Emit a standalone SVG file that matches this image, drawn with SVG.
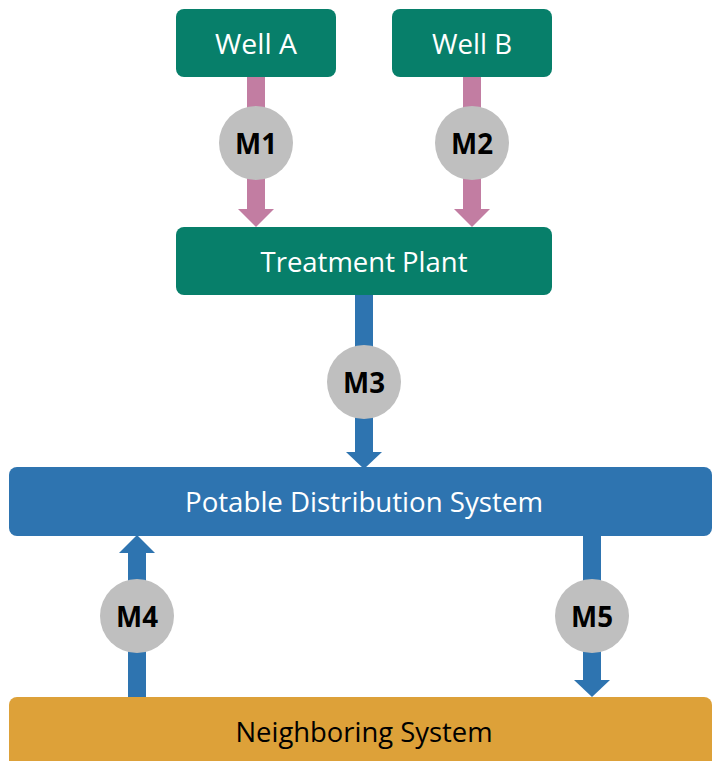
<svg xmlns="http://www.w3.org/2000/svg" width="712" height="761" viewBox="0 0 712 761">
<style>
.green{fill:#077F6A}
.blue{fill:#2E74B0}
.gold{fill:#DDA139}
.lbl{font-family:"Open Sans","Liberation Sans",sans-serif;font-size:28px;text-anchor:middle}
.w{fill:#FFFFFF}
.k{fill:#000000}
.meter{fill:#BFBFBF}
.mtxt{font-family:"Open Sans","Liberation Sans",sans-serif;font-size:28px;font-weight:bold;text-anchor:middle;fill:#000}
.pink{fill:#C27DA2}
.bl{fill:#2E74B0}
</style>
<g id="connectors">
  <g id="c-m1">
    <rect class="pink" x="247" y="77" width="18" height="133"/>
    <polygon class="pink" points="238,209 274,209 256,227"/>
  </g>
  <g id="c-m2">
    <rect class="pink" x="463" y="77" width="18" height="133"/>
    <polygon class="pink" points="454,209 490,209 472,227"/>
  </g>
  <g id="c-m3">
    <rect class="bl" x="355" y="294" width="18" height="159"/>
    <polygon class="bl" points="346,452 382,452 364,469"/>
  </g>
  <g id="c-m4">
    <rect class="bl" x="128" y="552" width="18" height="146"/>
    <polygon class="bl" points="119,553 155,553 137,535"/>
  </g>
  <g id="c-m5">
    <rect class="bl" x="583" y="535" width="18" height="146"/>
    <polygon class="bl" points="574,680 610,680 592,697"/>
  </g>
</g>
<g id="well-a">
  <rect class="green" x="176" y="9" width="160" height="68" rx="8"/>
  <text class="lbl w" x="256" y="54" textLength="82" lengthAdjust="spacingAndGlyphs">Well A</text>
</g>
<g id="well-b">
  <rect class="green" x="392" y="9" width="160" height="68" rx="8"/>
  <text class="lbl w" x="472" y="54" textLength="80" lengthAdjust="spacingAndGlyphs">Well B</text>
</g>
<g id="treatment-plant">
  <rect class="green" x="176" y="227" width="376" height="68" rx="8"/>
  <text class="lbl w" x="364" y="272" textLength="207" lengthAdjust="spacingAndGlyphs">Treatment Plant</text>
</g>
<g id="potable">
  <rect class="blue" x="9" y="467" width="703" height="69" rx="8"/>
  <text class="lbl w" x="364" y="512" textLength="358" lengthAdjust="spacingAndGlyphs">Potable Distribution System</text>
</g>
<g id="neighboring">
  <rect class="gold" x="9" y="697" width="703" height="80" rx="8"/>
  <text class="lbl k" x="364" y="742" textLength="257" lengthAdjust="spacingAndGlyphs">Neighboring System</text>
</g>
<g id="m1"><circle class="meter" cx="256" cy="143" r="37"/><text class="mtxt" x="256" y="154" textLength="42" lengthAdjust="spacingAndGlyphs">M1</text></g>
<g id="m2"><circle class="meter" cx="472" cy="143" r="37"/><text class="mtxt" x="472" y="154" textLength="42" lengthAdjust="spacingAndGlyphs">M2</text></g>
<g id="m3"><circle class="meter" cx="364" cy="382" r="37"/><text class="mtxt" x="364" y="393" textLength="42" lengthAdjust="spacingAndGlyphs">M3</text></g>
<g id="m4"><circle class="meter" cx="137" cy="616" r="37"/><text class="mtxt" x="137" y="627" textLength="42" lengthAdjust="spacingAndGlyphs">M4</text></g>
<g id="m5"><circle class="meter" cx="592" cy="616" r="37"/><text class="mtxt" x="592" y="627" textLength="42" lengthAdjust="spacingAndGlyphs">M5</text></g>
</svg>
